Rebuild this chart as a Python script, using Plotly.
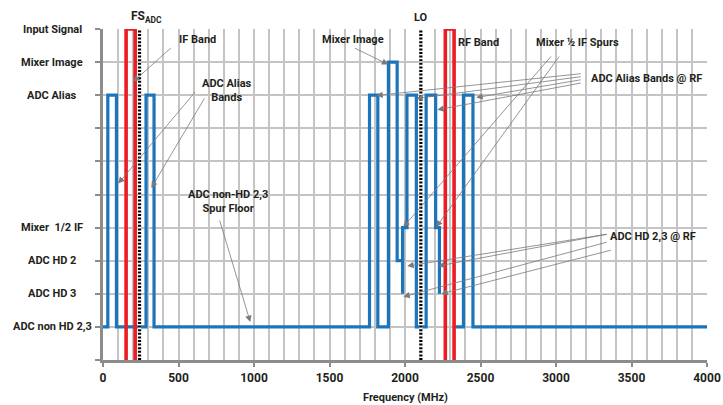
import plotly.graph_objects as go

# ---------------- data ----------------
# blue spur trace (frequency MHz, level index); None separates segments
spur_freq_mhz = [0, 32, 32, 89, 89, 285, 285, 338, 338, 1765, 1765, 1820, 1820,
                 1890, 1890, 1948, 1948, 1984, 1984, None,
                 1984, 1984, 2013, 2013, 2075, 2075, 2140, 2140, 2203, 2203, 2228, 2228, None,
                 2330, 2387, 2387, 2450, 2450, 4000]
spur_level = [1, 1, 8, 8, 1, 1, 8, 8, 1, 1, 8, 8, 1,
              1, 9, 9, 3, 3, 2, None,
              3, 4, 4, 8, 8, 1, 1, 8, 8, 4, 4, 2, None,
              1, 1, 8, 8, 1, 1]
# red input signal bands (IF and RF)
signal_freq_mhz = [153, 153, 213, 213, None, 2267, 2267, 2325, 2325]
signal_level = [0, 10, 10, 0, None, 0, 10, 10, 0]
fs_adc_mhz = 242
lo_mhz = 2105

level_vals = [10, 9, 8, 4, 3, 2, 1]
level_labels = ["Input Signal", "Mixer Image", "ADC Alias", "Mixer  1/2 IF",
                "ADC HD 2", "ADC HD 3", "ADC non HD 2,3"]
x_ticks = [0, 500, 1000, 1500, 2000, 2500, 3000, 3500, 4000]

FONT = "Roboto, Liberation Sans, Arial, sans-serif"
FS = 11
TXT = "#231f20"
GRID = "#c4c4c4"
AXIS = "#8c8c8c"
ARROW = "#7a7a7a"

fig = go.Figure()
fig.add_trace(go.Scatter(x=spur_freq_mhz, y=spur_level, mode="lines",
                         line=dict(color="#1b75bc", width=3.2), connectgaps=False,
                         hoverinfo="skip", showlegend=False))
fig.add_trace(go.Scatter(x=signal_freq_mhz, y=signal_level, mode="lines",
                         line=dict(color="#ec1c24", width=3.6), connectgaps=False,
                         hoverinfo="skip", showlegend=False))
for f in (fs_adc_mhz, lo_mhz):
    fig.add_trace(go.Scatter(x=[f, f], y=[0, 10], mode="lines",
                             line=dict(color="white", width=3.2),
                             hoverinfo="skip", showlegend=False))
    fig.add_trace(go.Scatter(x=[f, f], y=[0, 10], mode="lines",
                             line=dict(color="black", width=3.2, dash="2px,1.6px"),
                             hoverinfo="skip", showlegend=False))

ann = []
# y-axis category labels
for v, t in zip(level_vals, level_labels):
    ann.append(dict(x=-0.084, xref="paper", y=v, yref="y", text="<b>" + t + "</b>",
                    showarrow=False, xanchor="center", yanchor="middle",
                    font=dict(family=FONT, size=FS, color=TXT)))

def label(x, y, text, xanchor="center"):
    ann.append(dict(x=x, y=y, xref="x", yref="y", text="<b>" + text + "</b>",
                    showarrow=False, xanchor=xanchor, yanchor="middle", align="center",
                    font=dict(family=FONT, size=FS, color=TXT)))

label(492, 9.68, "IF Band", "left")
label(824, 8.14, "ADC Alias<br>Bands")
label(827, 4.8, "ADC non-HD 2,3<br>Spur Floor")
label(1654, 9.68, "Mixer Image")
label(2485, 9.58, "RF Band")
label(3144, 9.58, "Mixer ½ IF Spurs")
label(3598, 8.49, "ADC Alias Bands @ RF")
label(3644, 3.72, "ADC HD 2,3 @ RF")

ann.append(dict(x=fs_adc_mhz, y=10, xref="x", yref="y", text="<b>FS<sub>ADC</sub></b>",
                showarrow=False, xanchor="center", yanchor="bottom", xshift=7, yshift=2,
                font=dict(family=FONT, size=FS + 1, color=TXT)))
ann.append(dict(x=lo_mhz, y=10, xref="x", yref="y", text="<b>LO</b>",
                showarrow=False, xanchor="center", yanchor="bottom", yshift=3,
                font=dict(family=FONT, size=FS, color=TXT)))
# x-axis title
ann.append(dict(x=0.5, xref="paper", y=-0.112, yref="paper", text="<b>Frequency (MHz)</b>",
                showarrow=False, xanchor="center", yanchor="middle",
                font=dict(family=FONT, size=FS, color=TXT)))

# arrows: (tip x MHz, tip level, tail dx px, tail dy px)
arrows = [
    (201, 8.41, 39, -35),
    (101, 5.33, 78, -93),
    (320, 5.20, 54, -91),
    (975, 1.15, -31, -103),
    (1889, 8.93, -35, -17),
    (1989, 4.02, 149, -172),
    (2207, 4.02, 124, -172),
    (1810, 7.99, 206, -22),
    (2075, 7.90, 166, -22),
    (2214, 7.56, 145, -27),
    (2472, 7.93, 106, -18),
    (2015, 2.84, 201, -32),
    (2220, 2.84, 170, -32),
    (1989, 1.91, 205, -55),
    (2241, 2.00, 171, -44),
]
for x, y, ax, ay in arrows:
    ann.append(dict(x=x, y=y, xref="x", yref="y", ax=ax, ay=ay, text="",
                    showarrow=True, arrowhead=2, arrowsize=1.6, arrowwidth=0.8,
                    arrowcolor=ARROW))

fig.update_layout(
    width=723, height=405,
    margin=dict(l=103, r=16, t=29, b=45),
    paper_bgcolor="white", plot_bgcolor="white",
    annotations=ann,
    xaxis=dict(range=[0, 4000], tickvals=x_ticks, ticks="outside", ticklen=4,
               tickwidth=2, tickcolor=AXIS, showgrid=True, gridcolor=GRID, gridwidth=1.6,
               minor=dict(dtick=100, showgrid=True, gridcolor=GRID, gridwidth=1.6),
               showline=True, linecolor=AXIS, linewidth=2.5, zeroline=False,
               automargin=False, ticklabelstandoff=1,
               tickfont=dict(family=FONT, size=12, color=TXT, weight="bold")),
    yaxis=dict(range=[0, 10], tickvals=list(range(11)), ticks="outside", ticklen=5,
               tickwidth=2, tickcolor=AXIS, showticklabels=False, automargin=False,
               showgrid=True, gridcolor=GRID, gridwidth=1.6,
               showline=True, linecolor=AXIS, linewidth=2.5, zeroline=False),
)
fig.write_html("out.html")
